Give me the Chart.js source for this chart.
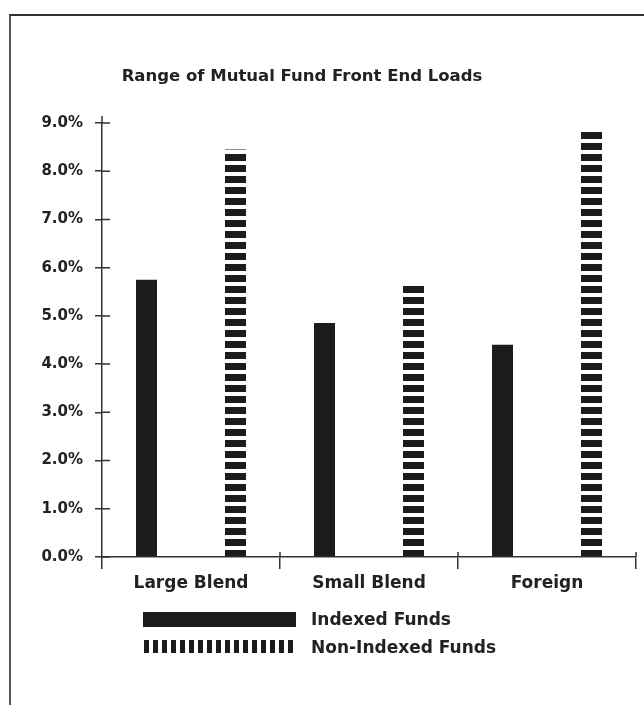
<!DOCTYPE html>
<html>
<head>
<meta charset="utf-8">
<script src="https://cdn.jsdelivr.net/npm/chart.js@4"></script>
<style>
  body { margin: 0; background: #fff; }
  #wrap { position: relative; width: 644px; height: 705px; }
  #frame {
    position: absolute; left: 9px; top: 14px; right: 0; bottom: 0;
    border-top: 2px solid #333; border-left: 2px solid #555;
    pointer-events: none;
  }
</style>
</head>
<body>
<div id="wrap">
  <canvas id="chart" width="644" height="705"></canvas>
  <div id="frame"></div>
</div>
<script>
// data (front end load, %)
const categories = ["Large Blend", "Small Blend", "Foreign"];
const indexedLoads = [5.75, 4.85, 4.4];
const nonIndexedLoads = [8.45, 5.7, 8.85];
const seriesNames = ["Indexed Funds", "Non-Indexed Funds"];
const yMax = 9;
const yStep = 1;

const INK = "#1c1c1c";
const AXIS = "#333";
const FONT = "'DejaVu Sans', 'Liberation Sans', Arial, sans-serif";

// striped fill, like the dashed bars in the print
function stripePattern(vertical, on, off) {
  const c = document.createElement("canvas");
  const p = on + off;
  c.width = vertical ? p : 4;
  c.height = vertical ? 4 : p;
  const g = c.getContext("2d");
  g.fillStyle = "#fff";
  g.fillRect(0, 0, c.width, c.height);
  g.fillStyle = INK;
  if (vertical) g.fillRect(0, 0, on, c.height);
  else g.fillRect(0, 0, c.width, on);
  return g.createPattern(c, "repeat");
}

const hStripes = stripePattern(false, 7, 4);
const vStripes = stripePattern(true, 5, 4);

// title, legend and the little crossing ticks
const extras = {
  id: "extras",
  afterDraw(chart) {
    const ctx = chart.ctx;
    const x = chart.scales.x;
    const y = chart.scales.y;
    const area = chart.chartArea;
    ctx.save();
    ctx.strokeStyle = AXIS;
    ctx.lineWidth = 1.5;
    ctx.beginPath();
    // y axis pokes a bit above the top tick
    ctx.moveTo(area.left, area.top - 7);
    ctx.lineTo(area.left, area.top);
    // ticks cross the y axis
    y.ticks.forEach((t) => {
      const py = y.getPixelForValue(t.value);
      ctx.moveTo(area.left, py);
      ctx.lineTo(area.left + 8, py);
    });
    // category separators cross the x axis
    const half = (x.getPixelForValue(1) - x.getPixelForValue(0)) / 2;
    categories.forEach((c, i) => {
      const px = x.getPixelForValue(i) + half;
      ctx.moveTo(px, area.bottom - 5);
      ctx.lineTo(px, area.bottom);
    });
    ctx.stroke();

    ctx.fillStyle = "#222";
    ctx.textBaseline = "alphabetic";
    ctx.textAlign = "center";
    ctx.font = "bold 16.5px " + FONT;
    ctx.fillText("Range of Mutual Fund Front End Loads", 302, 81);

    ctx.textAlign = "left";
    ctx.font = "bold 17px " + FONT;
    ctx.fillStyle = INK;
    ctx.fillRect(143, 612, 153, 15);
    ctx.fillStyle = vStripes;
    ctx.fillRect(143, 640, 153, 13);
    ctx.fillStyle = "#222";
    ctx.fillText(seriesNames[0], 311, 625);
    ctx.fillText(seriesNames[1], 311, 653);
    ctx.restore();
  }
};

new Chart(document.getElementById("chart"), {
  type: "bar",
  data: {
    labels: categories,
    datasets: [
      {
        label: seriesNames[0],
        data: indexedLoads,
        backgroundColor: INK,
        borderWidth: 0,
      },
      {
        label: seriesNames[1],
        data: nonIndexedLoads,
        backgroundColor: hStripes,
        borderWidth: 0,
      },
    ],
  },
  options: {
    responsive: false,
    animation: false,
    layout: { padding: { top: 123, left: 0, right: 8, bottom: 108 } },
    categoryPercentage: 1.0,
    barPercentage: 0.236,
    scales: {
      x: {
        afterFit: (s) => { s.height = 40; },
        grid: { drawOnChartArea: false, tickLength: 12, color: AXIS, lineWidth: 1.5 },
        border: { color: AXIS, width: 1.5 },
        ticks: { color: "#222", padding: 4, font: { family: FONT, size: 17, weight: "bold" } },
      },
      y: {
        min: 0,
        max: yMax,
        afterFit: (s) => { s.width = 102; },
        grid: { drawOnChartArea: false, tickLength: 7, color: AXIS, lineWidth: 1.5 },
        border: { color: AXIS, width: 1.5 },
        ticks: {
          stepSize: yStep,
          padding: 12,
          color: "#222",
          font: { family: FONT, size: 15, weight: "bold" },
          callback: (v) => v.toFixed(1) + "%",
        },
      },
    },
    plugins: {
      legend: { display: false },
      tooltip: { enabled: false },
      title: { display: false },
    },
  },
  plugins: [extras],
});
</script>
</body>
</html>
